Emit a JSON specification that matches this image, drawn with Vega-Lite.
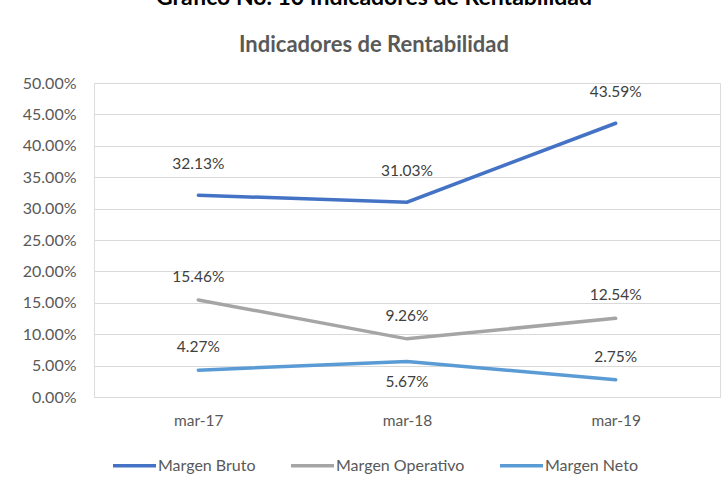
{
  "$schema": "https://vega.github.io/schema/vega-lite/v6.json",
  "autosize": "none",
  "width": 626,
  "height": 314,
  "padding": {"left": 94, "top": 83, "right": 7, "bottom": 88},
  "background": "white",
  "title": {
    "text": "Gráfico No. 10 Indicadores de Rentabilidad",
    "subtitle": "Indicadores de Rentabilidad",
    "anchor": "middle",
    "frame": "group",
    "dx": -33,
    "font": "Lato",
    "fontSize": 23,
    "fontWeight": "bold",
    "color": "black",
    "subtitleFont": "Lato",
    "subtitleFontSize": 22,
    "subtitleFontWeight": "bold",
    "subtitleColor": "#595959",
    "subtitlePadding": 25,
    "offset": 19
  },
  "data": {
    "values": [
      {"fecha": "mar-17", "serie": "Margen Bruto", "valor": 0.3213},
      {"fecha": "mar-18", "serie": "Margen Bruto", "valor": 0.3103},
      {"fecha": "mar-19", "serie": "Margen Bruto", "valor": 0.4359},
      {"fecha": "mar-17", "serie": "Margen Operativo", "valor": 0.1546},
      {"fecha": "mar-18", "serie": "Margen Operativo", "valor": 0.0926},
      {"fecha": "mar-19", "serie": "Margen Operativo", "valor": 0.1254},
      {"fecha": "mar-17", "serie": "Margen Neto", "valor": 0.0427},
      {"fecha": "mar-18", "serie": "Margen Neto", "valor": 0.0567},
      {"fecha": "mar-19", "serie": "Margen Neto", "valor": 0.0275}
    ]
  },
  "encoding": {
    "x": {
      "field": "fecha",
      "type": "ordinal",
      "sort": ["mar-17", "mar-18", "mar-19"],
      "scale": {"type": "point", "padding": 0.5},
      "axis": {
        "title": null,
        "labelAngle": 0,
        "domain": false,
        "ticks": false,
        "grid": false,
        "labelPadding": 16,
        "labelFont": "Lato",
        "labelFontSize": 15.5,
        "labelColor": "#595959"
      }
    },
    "y": {
      "field": "valor",
      "type": "quantitative",
      "scale": {"domain": [0, 0.5], "nice": false},
      "axis": {
        "title": null,
        "format": ".2%",
        "values": [0, 0.05, 0.1, 0.15, 0.2, 0.25, 0.3, 0.35, 0.4, 0.45, 0.5],
        "domain": false,
        "ticks": false,
        "labelPadding": 18,
        "labelFont": "Lato",
        "labelFontSize": 16,
        "labelColor": "#595959",
        "gridColor": "#D9D9D9",
        "gridWidth": 1
      }
    }
  },
  "layer": [
    {
      "mark": {"type": "line", "strokeWidth": 3.5, "strokeCap": "round"},
      "encoding": {
        "color": {
          "field": "serie",
          "type": "nominal",
          "scale": {
            "domain": ["Margen Bruto", "Margen Operativo", "Margen Neto"],
            "range": ["#4472C4", "#A5A5A5", "#5B9BD5"]
          },
          "legend": {
            "title": null,
            "orient": "none",
            "legendX": 17,
            "legendY": 359,
            "direction": "horizontal",
            "symbolType": "stroke",
            "symbolStrokeWidth": 3.5,
            "symbolSize": 1849,
            "labelFont": "Lato",
            "labelFontSize": 16,
            "labelColor": "#595959",
            "labelOffset": 0,
            "columnPadding": 28
          }
        }
      }
    },
    {
      "transform": [{"filter": "datum.serie === 'Margen Bruto'"}],
      "mark": {"type": "text", "dy": -31, "font": "Lato", "fontSize": 15.5, "color": "#404040"},
      "encoding": {"text": {"field": "valor", "type": "quantitative", "format": ".2%"}}
    },
    {
      "transform": [{"filter": "datum.serie === 'Margen Operativo'"}],
      "mark": {"type": "text", "dy": -23, "font": "Lato", "fontSize": 15.5, "color": "#404040"},
      "encoding": {"text": {"field": "valor", "type": "quantitative", "format": ".2%"}}
    },
    {
      "transform": [{"filter": "datum.serie === 'Margen Neto' && datum.fecha !== 'mar-18'"}],
      "mark": {"type": "text", "dy": -23, "font": "Lato", "fontSize": 15.5, "color": "#404040"},
      "encoding": {"text": {"field": "valor", "type": "quantitative", "format": ".2%"}}
    },
    {
      "transform": [{"filter": "datum.serie === 'Margen Neto' && datum.fecha === 'mar-18'"}],
      "mark": {"type": "text", "dy": 21, "font": "Lato", "fontSize": 15.5, "color": "#404040"},
      "encoding": {"text": {"field": "valor", "type": "quantitative", "format": ".2%"}}
    }
  ]
}
